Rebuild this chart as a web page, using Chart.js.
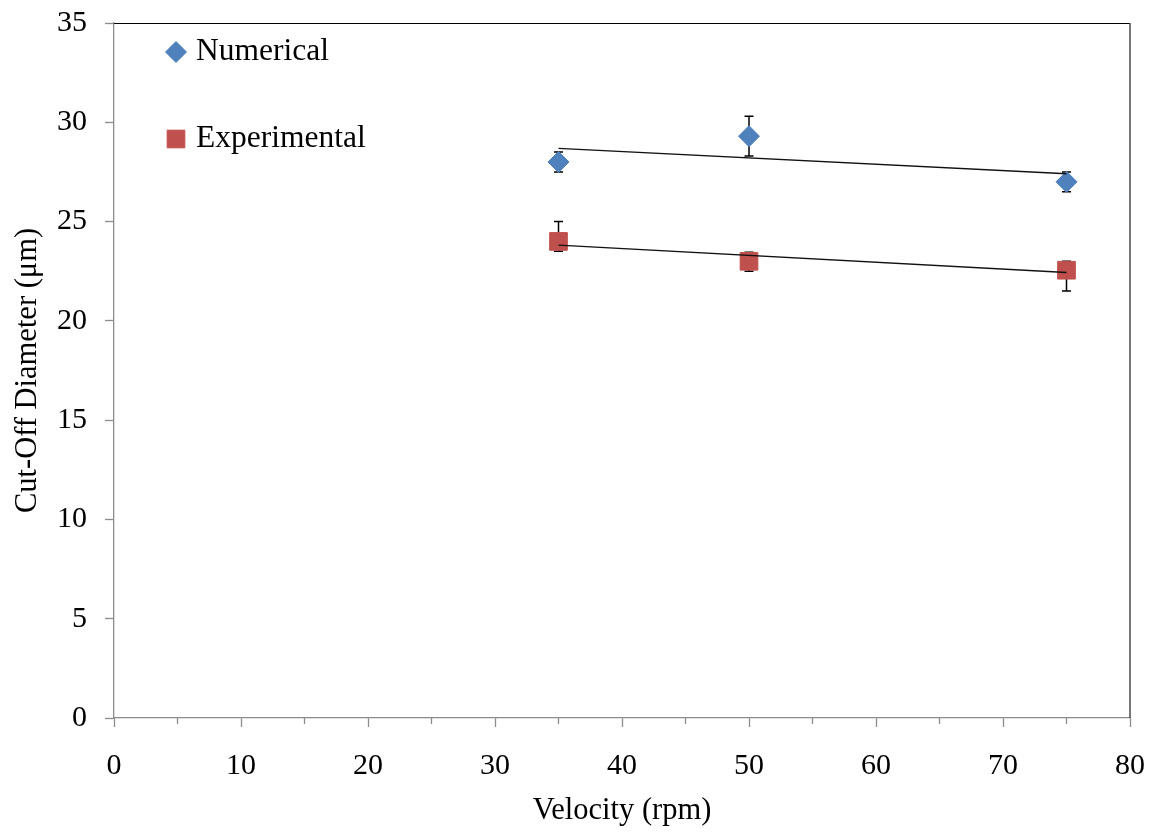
<!DOCTYPE html>
<html>
<head>
<meta charset="utf-8">
<title>Cut-Off Diameter vs Velocity</title>
<script src="https://cdn.jsdelivr.net/npm/chart.js@4/dist/chart.umd.min.js"></script>
<style>
  html, body { margin: 0; padding: 0; background: #fff; }
  #wrap { width: 1157px; height: 835px; }
</style>
</head>
<body>
<div id="wrap"><canvas id="cutoffChart" width="1157" height="835"></canvas></div>
<script>
// rotor velocity (rpm) and measured / simulated cut-off diameters (um)
const velocity = [35, 50, 75];
const numerical = [28.0, 29.3, 27.0];
const numericalLow = [27.5, 28.3, 26.5];
const numericalHigh = [28.5, 30.3, 27.5];
const experimental = [24.0, 23.0, 22.55];
const experimentalLow = [23.5, 22.5, 21.5];
const experimentalHigh = [25.0, 23.45, 23.0];

const xTicks = [0, 10, 20, 30, 40, 50, 60, 70, 80];
const xMinorTicks = [5, 15, 25, 35, 45, 55, 65, 75];
const yTicks = [0, 5, 10, 15, 20, 25, 30, 35];

const BLUE = '#4F81BD';
const RED = '#C0504D';
const AXIS_GREY = '#8c8c8c';
const SERIF = '"Liberation Serif", "Times New Roman", serif';

function toPoints(xs, ys) {
    return xs.map((x, i) => ({ x: x, y: ys[i] }));
}

// least-squares straight line, returned as its two end points
function linearFit(xs, ys) {
    const n = xs.length;
    const mx = xs.reduce((a, b) => a + b, 0) / n;
    const my = ys.reduce((a, b) => a + b, 0) / n;
    let sxy = 0, sxx = 0;
    for (let i = 0; i < n; i++) {
        sxy += (xs[i] - mx) * (ys[i] - my);
        sxx += (xs[i] - mx) * (xs[i] - mx);
    }
    const slope = sxy / sxx;
    const x0 = Math.min(...xs), x1 = Math.max(...xs);
    return [
        { x: x0, y: my + slope * (x0 - mx) },
        { x: x1, y: my + slope * (x1 - mx) }
    ];
}

const errorBars = [
    { low: numericalLow, high: numericalHigh },
    { low: experimentalLow, high: experimentalHigh }
];

// vertical error bars with caps, drawn under the markers
const errorBarPlugin = {
    id: 'errorBars',
    beforeDatasetsDraw(chart) {
        const ctx = chart.ctx;
        const xs = chart.scales.x, ys = chart.scales.y;
        ctx.save();
        ctx.strokeStyle = '#000';
        ctx.lineWidth = 1.5;
        errorBars.forEach(bar => {
            velocity.forEach((v, i) => {
                const px = xs.getPixelForValue(v);
                const top = ys.getPixelForValue(bar.high[i]);
                const bot = ys.getPixelForValue(bar.low[i]);
                ctx.beginPath();
                ctx.moveTo(px, top);
                ctx.lineTo(px, bot);
                ctx.moveTo(px - 4.5, top);
                ctx.lineTo(px + 4.5, top);
                ctx.moveTo(px - 4.5, bot);
                ctx.lineTo(px + 4.5, bot);
                ctx.stroke();
            });
        });
        ctx.restore();
    }
};

// plot frame (top/right), minor x ticks and the in-plot legend
const framePlugin = {
    id: 'frame',
    afterDraw(chart) {
        const ctx = chart.ctx;
        const area = chart.chartArea;
        const xs = chart.scales.x;
        ctx.save();
        ctx.strokeStyle = '#000';
        ctx.lineWidth = 1;
        ctx.beginPath();
        ctx.moveTo(area.left, area.top + 0.5);
        ctx.lineTo(area.right, area.top + 0.5);
        ctx.stroke();
        ctx.strokeStyle = '#4a4a4a';
        ctx.lineWidth = 1.5;
        ctx.beginPath();
        ctx.moveTo(area.right, area.top);
        ctx.lineTo(area.right, area.bottom);
        ctx.stroke();

        ctx.strokeStyle = AXIS_GREY;
        ctx.lineWidth = 1.3;
        xMinorTicks.forEach(v => {
            const px = xs.getPixelForValue(v);
            ctx.beginPath();
            ctx.moveTo(px, area.bottom);
            ctx.lineTo(px, area.bottom + 6);
            ctx.stroke();
        });

        const items = [
            { ds: chart.data.datasets[0], y: 52 },
            { ds: chart.data.datasets[1], y: 139 }
        ];
        ctx.font = '31.5px ' + SERIF;
        ctx.textBaseline = 'middle';
        ctx.textAlign = 'left';
        items.forEach(it => {
            ctx.fillStyle = it.ds.backgroundColor;
            ctx.strokeStyle = it.ds.borderColor;
            ctx.lineWidth = it.ds.pointBorderWidth;
            Chart.helpers.drawPoint(ctx, {
                pointStyle: it.ds.pointStyle,
                radius: it.ds.pointRadius,
                borderWidth: it.ds.pointBorderWidth,
                rotation: 0
            }, 176, it.y);
            ctx.fillStyle = '#000';
            ctx.fillText(it.ds.label, 196, it.y);
        });
        ctx.restore();
    }
};

const numFit = linearFit(velocity, numerical);
const expFit = linearFit(velocity, experimental);

const ctx = document.getElementById('cutoffChart').getContext('2d');
const chart = new Chart(ctx, {
    type: 'scatter',
    data: {
        datasets: [
            {
                label: 'Numerical',
                data: toPoints(velocity, numerical),
                pointStyle: 'rectRot',
                pointRadius: 10.5,
                pointBorderWidth: 1,
                backgroundColor: BLUE,
                borderColor: BLUE,
                order: 2
            },
            {
                label: 'Experimental',
                data: toPoints(velocity, experimental),
                pointStyle: 'rect',
                pointRadius: 12.5,
                pointBorderWidth: 1,
                backgroundColor: RED,
                borderColor: RED,
                order: 2
            },
            {
                label: 'Numerical trend',
                data: numFit,
                showLine: true,
                borderColor: '#111',
                borderWidth: 1.4,
                pointRadius: 0,
                order: 1
            },
            {
                label: 'Experimental trend',
                data: expFit,
                showLine: true,
                borderColor: '#111',
                borderWidth: 1.4,
                pointRadius: 0,
                order: 1
            }
        ]
    },
    options: {
        responsive: false,
        animation: false,
        devicePixelRatio: 1,
        layout: { padding: { top: 23, right: 27, left: 0, bottom: 0 } },
        plugins: {
            legend: { display: false },
            tooltip: { enabled: false }
        },
        scales: {
            x: {
                type: 'linear',
                min: 0,
                max: 80,
                afterBuildTicks: scale => { scale.ticks = xTicks.map(v => ({ value: v })); },
                afterFit: scale => {
                    scale.height = 117;
                    scale.paddingLeft = 0;
                    scale.paddingRight = 0;
                },
                grid: { drawOnChartArea: false, drawTicks: true, tickLength: 9, tickColor: AXIS_GREY, tickWidth: 1.3 },
                border: { color: AXIS_GREY, width: 1.3 },
                ticks: { font: { family: SERIF, size: 30 }, color: '#000', padding: 21, maxRotation: 0 },
                title: {
                    display: true,
                    text: 'Velocity (rpm)',
                    font: { family: SERIF, size: 30.5 },
                    color: '#000',
                    padding: { top: 0, bottom: 6 }
                }
            },
            y: {
                min: 0,
                max: 35,
                afterBuildTicks: scale => { scale.ticks = yTicks.map(v => ({ value: v })); },
                afterFit: scale => {
                    scale.width = 114;
                    scale.paddingTop = 0;
                    scale.paddingBottom = 0;
                },
                grid: { drawOnChartArea: false, drawTicks: true, tickLength: 9, tickColor: AXIS_GREY, tickWidth: 1.3 },
                border: { color: AXIS_GREY, width: 1.3 },
                ticks: { font: { family: SERIF, size: 30 }, color: '#000', padding: 18 },
                title: {
                    display: true,
                    text: 'Cut-Off Diameter (μm)',
                    font: { family: SERIF, size: 30.5 },
                    color: '#000',
                    padding: { top: 10, bottom: 0 }
                }
            }
        }
    },
    plugins: [errorBarPlugin, framePlugin]
});
</script>
</body>
</html>
